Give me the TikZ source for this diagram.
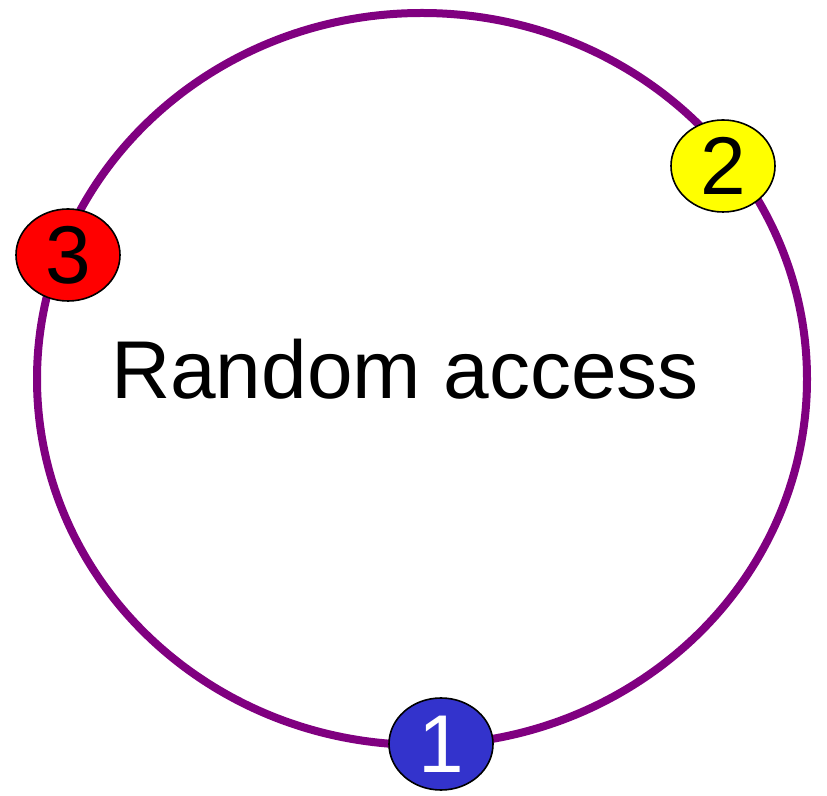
\documentclass[tikz,border=0pt]{standalone}
\usepackage{fontspec}
\setmainfont{Liberation Sans}
\usetikzlibrary{shapes.geometric}
\definecolor{ringpurple}{HTML}{800080}
\definecolor{stepblue}{HTML}{3333CC}
\definecolor{stepyellow}{HTML}{FFFF00}
\definecolor{stepred}{HTML}{FF0000}
\tikzset{
  stage/.style={ellipse, draw=black, line width=1.6pt, minimum width=104pt,
    minimum height=92pt, inner sep=0pt, font=\fontsize{82}{82}\selectfont},
}
\begin{document}
\begin{tikzpicture}[x=1pt, y=1pt]
  \useasboundingbox (0,0) rectangle (827,795);
  % the access cycle
  \draw[ringpurple, line width=8pt] (422,416) ellipse [x radius=385, y radius=366];
  \node[font=\fontsize{82}{82}\selectfont] (title) at (405,426) {Random access};
  % numbered stages on the ring
  \node[stage, fill=stepblue, text=white] (s1) at (441,51) {1};
  \node[stage, fill=stepyellow] (s2) at (723,629) {2};
  \node[stage, fill=stepred] (s3) at (68,540) {3};
\end{tikzpicture}
\end{document}
